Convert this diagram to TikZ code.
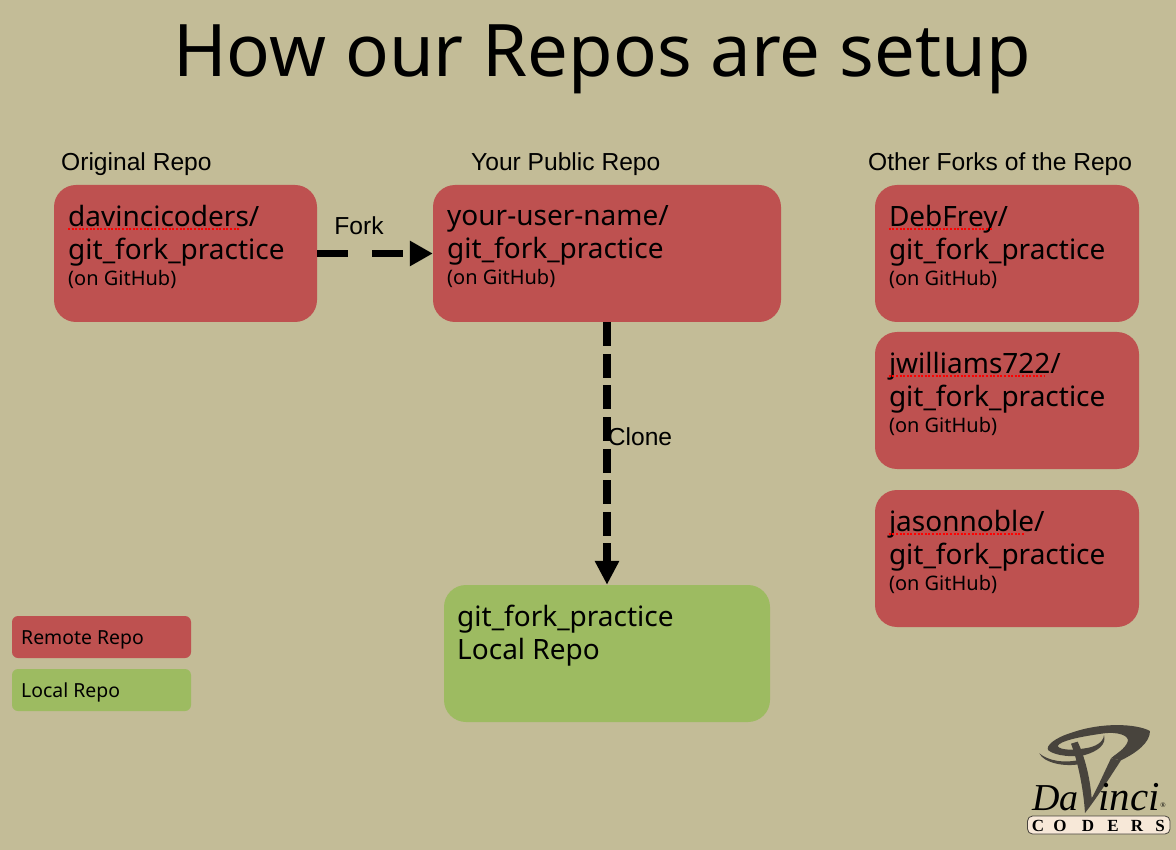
\documentclass[tikz,border=0pt]{standalone}
\usepackage{fontspec}
\setmainfont{Noto Sans}
\newfontfamily\arialfont{Liberation Sans}
\newfontfamily\logofont{Liberation Serif}
\usetikzlibrary{arrows.meta,positioning}
\definecolor{pagebg}{HTML}{C3BC97}
\definecolor{remotered}{HTML}{BE5150}
\definecolor{localgreen}{HTML}{9DBB61}
\definecolor{logodark}{HTML}{48443D}
\definecolor{logopaper}{HTML}{F7E8D8}
\tikzset{
  repobox/.style={fill=remotered,rounded corners=22pt,inner sep=0pt},
  localbox/.style={repobox,fill=localgreen},
  keybox/.style={rounded corners=6pt,inner sep=0pt,minimum width=179pt,minimum height=42pt},
  repotext/.style={anchor=north west,inner sep=0pt,align=left,font=\fontsize{28}{33}\selectfont},
  keytext/.style={anchor=west,inner sep=0pt,font=\fontsize{19.4}{22}\selectfont},
  headtext/.style={inner sep=0pt,font=\arialfont\fontsize{24.6}{28}\selectfont},
  spellline/.style={red,line width=1.6pt,dash pattern=on 2pt off 1.6pt},
  forkarrow/.style={line width=7pt,dash pattern=on 31pt off 24pt,-{Triangle[length=23pt,width=24pt]}},
  clonearrow/.style={line width=8pt,dash pattern=on 24pt off 7.6pt,-{Triangle[length=24pt,width=23pt]}},
  logotext/.style={inner sep=0pt,font=\logofont\itshape\fontsize{#1}{#1}\selectfont},
}
\newcommand{\ongithub}{{\fontsize{20}{20}\selectfont (on GitHub)}}
\begin{document}
\begin{tikzpicture}[x=1pt,y=-1pt]
\fill[pagebg] (0,0) rectangle (1176,850);
\useasboundingbox (0,0) rectangle (1176,850);
\node[inner sep=0pt,font=\fontsize{72.5}{80}\selectfont] (title) at (602,59) {How our Repos are setup};
% the boxes
\node[repobox,minimum width=263pt,minimum height=137pt] (orig) at (185.5,253.5) {};
\node[repobox,minimum width=348pt,minimum height=137pt] (pub) at (607,253.5) {};
\node[localbox,minimum width=326pt,minimum height=137pt] (local) at (607,653.5) {};
\node[repotext] (origtext) at (68,205) {davincicoders/\\git\_fork\_practice\\[-7pt]\ongithub};
\node[repotext] (pubtext) at (447,205) {your-user-name/\\git\_fork\_practice\\[-7pt]\ongithub};
\node[repotext] (localtext) at (457,605) {git\_fork\_practice\\Local Repo};
\draw[spellline] (68,229) -- (240,229);
\foreach \n/\y/\who/\w in {a/253.5/DebFrey/103,b/400.5/jwilliams722/156,c/558.5/jasonnoble/136} {
\node[repobox,minimum width=264pt,minimum height=137pt] (fork\n) at (1007,\y) {};
\node[repotext,below right=20pt and 14pt of fork\n.north west] (fork\n text) {\who/\\git\_fork\_practice\\[-7pt]\ongithub};
\draw[spellline] ([xshift=14pt,yshift=-44pt]fork\n.north west) -- +(\w,0);
}
% headings
\node[headtext,anchor=west] (orighead) at (61,164) {Original Repo};
\node[headtext,anchor=west] (pubhead) at (471,164) {Your Public Repo};
\node[headtext,anchor=west] (forkhead) at (868,164) {Other Forks of the Repo};
% arrows
\draw[forkarrow] (orig) -- (pub);
\draw[clonearrow] (pub) -- (local);
\node[headtext] (forklabel) at (359,226) {Fork};
\node[headtext] (clonelabel) at (640,437) {Clone};
% the key
\node[keybox,fill=remotered] (keyremote) at (101.5,637) {};
\node[keybox,fill=localgreen] (keylocal) at (101.5,690) {};
\node[keytext] (keyremotetext) at (21,640) {Remote Repo};
\node[keytext] (keylocaltext) at (21,692) {Local Repo};
% logo
\begin{scope}[shift={(1035,721)},x=.3333pt,y=-.3333pt]
\fill[logodark] (345,30) .. controls (305,8) and (200,3) .. (110,35)
  .. controls (60,50) and (30,75) .. (40,88)
  .. controls (60,105) and (120,110) .. (150,102)
  .. controls (190,90) and (215,70) .. (207,42)
  .. controls (205,65) and (180,78) .. (150,82)
  .. controls (115,88) and (75,88) .. (68,75)
  .. controls (75,60) and (130,48) .. (200,38)
  .. controls (250,30) and (285,45) .. (278,62)
  .. controls (270,85) and (240,100) .. (228,112) -- (258,118)
  .. controls (305,95) and (345,65) .. (345,30) -- cycle;
\fill[logodark] (108,68) .. controls (128,120) and (145,200) .. (150,276)
  .. controls (190,225) and (230,160) .. (258,118) -- (228,112)
  .. controls (205,160) and (190,195) .. (170,232)
  .. controls (165,170) and (150,110) .. (128,62) -- cycle;
\fill[logodark] (13,97) .. controls (25,125) and (90,140) .. (140,128) -- (135,116)
  .. controls (90,128) and (40,120) .. (13,97) -- cycle;
\end{scope}
\node[logotext=38,anchor=base east] (logoda) at (1079,810.5) {Da};
\node[logotext=41,anchor=base west] (logoinci) at (1098,810.5) {inci};
\node[inner sep=0pt,font=\logofont\fontsize{7}{7}\selectfont] (logoreg) at (1163,805) {\textregistered};
\draw[logodark,fill=logopaper,rounded corners=5pt,line width=.8pt] (1027.5,816) rectangle (1170,834);
\foreach \n/\x/\l in {c/1038/C,o/1060/O,d/1088/D,e/1113/E,r/1137/R,s/1160/S}
\node[inner sep=0pt,font=\logofont\bfseries\fontsize{17}{17}\selectfont,text=black] (logo\n) at (\x,825.5) {\l};
\end{tikzpicture}
\end{document}
